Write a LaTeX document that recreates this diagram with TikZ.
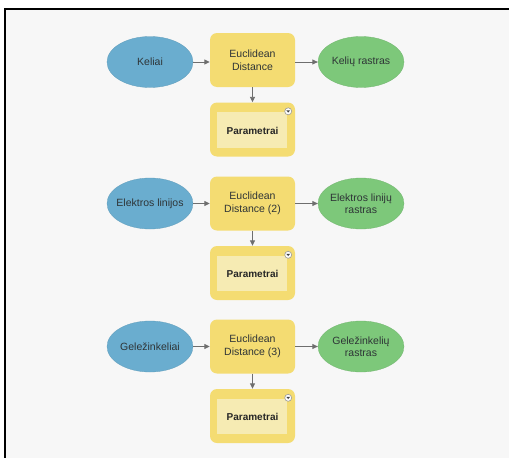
\documentclass[tikz,border=0pt]{standalone}
\usepackage{fontspec}
\setmainfont{Liberation Sans}
\usetikzlibrary{shapes.geometric,arrows.meta,calc}

\definecolor{canvas}{HTML}{F7F7F7}
\definecolor{inputblue}{HTML}{6AADCF}
\definecolor{outputgreen}{HTML}{7DC87A}
\definecolor{toolyellow}{HTML}{F4DC72}
\definecolor{paramfill}{HTML}{F6EBB3}
\definecolor{linkgray}{HTML}{6E6E6E}
\definecolor{labeltext}{HTML}{2E3436}

\tikzset{
  lbl/.style={font=\fontsize{10.5}{12.5}\selectfont, text=labeltext, align=center},
  inputnode/.style={lbl, ellipse, fill=inputblue, draw=inputblue!90!black, line width=0.3pt,
    minimum width=86pt, minimum height=51pt, inner xsep=-5pt, inner ysep=0pt},
  outputnode/.style={lbl, ellipse, fill=outputgreen, draw=outputgreen!90!black, line width=0.3pt,
    minimum width=86pt, minimum height=51pt, inner xsep=-5pt, inner ysep=0pt},
  toolnode/.style={lbl, rounded corners=7pt, fill=toolyellow,
    minimum width=85pt, minimum height=54pt, inner sep=0pt},
  paramnode/.style={rounded corners=7pt, fill=toolyellow,
    minimum width=85pt, minimum height=54pt, inner sep=0pt},
  paraminner/.style={fill=paramfill},
  link/.style={draw=linkgray, line width=0.9pt, -{Triangle[length=5.5pt,width=5pt]}},
  menubtn/.style={circle, fill=white, draw=linkgray!70, line width=0.6pt,
    minimum size=7pt, inner sep=0pt},
}

% Model block: input ellipse, tool box, output ellipse and parameter box
\newcommand{\modelrow}[6]{%
  % #1 id, #2 tool centre y, #3 ellipse centre y, #4 input, #5 tool, #6 output
  \node[toolnode] (tool#1) at (252.5,#2) {#5};
  \node[inputnode] (in#1) at (150,#3) {#4};
  \node[outputnode] (out#1) at (361,#3) {#6};
  \node[paramnode] (par#1) at (252.5,#2+69.5) {};
  \fill[paraminner] ($(par#1.north west)+(7,10)$) rectangle ($(par#1.south east)+(-8,-9)$);
  \node[font=\bfseries\fontsize{10}{12}\selectfont, text=black!85] (ptxt#1) at ($(par#1.center)+(0,1)$) {Parametrai};
  \node[menubtn] (btn#1) at ($(par#1.north east)+(-7,9)$) {};
  \fill[black!75] ($(btn#1.center)+(-1.8,-0.9)$) -- ($(btn#1.center)+(1.8,-0.9)$) -- ($(btn#1.center)+(0,1.3)$) -- cycle;
  \draw[link] (in#1.east) -- (in#1.east -| tool#1.west);
  \draw[link] (tool#1.east |- in#1.east) -- (out#1.west);
  \draw[link] (tool#1.south) -- (par#1.north);
}

\begin{document}
\begin{tikzpicture}[x=1pt,y=-1pt]
  \useasboundingbox (0,0) rectangle (509,458);
  \fill[white] (0,0) rectangle (509,458);
  \fill[canvas] (5,9) rectangle (509,458);
  \draw[black, line width=1.8pt] (5,458) -- (5,9) -- (509,9);

  \modelrow{a}{60}{62}{Keliai}{Euclidean\\Distance}{Kelių rastras}
  \modelrow{b}{203.5}{203.5}{Elektros linijos}{Euclidean\\Distance (2)}{Elektros linijų\\rastras}
  \modelrow{c}{346.5}{346.5}{Geležinkeliai}{Euclidean\\Distance (3)}{Geležinkelių\\rastras}
\end{tikzpicture}
\end{document}
